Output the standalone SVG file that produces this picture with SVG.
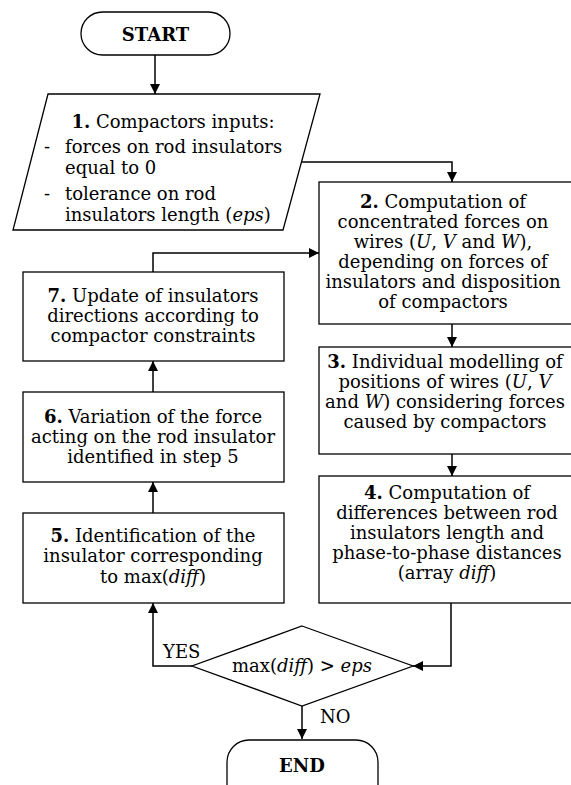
<svg xmlns="http://www.w3.org/2000/svg" width="571" height="785" viewBox="0 0 571 785">
<style>
.s{fill:#fff;stroke:#000;stroke-width:1.3}
.c{fill:none;stroke:#000;stroke-width:1.5}
text{font-family:"DejaVu Serif","Liberation Serif",serif;font-size:18px;fill:#000}
.m{text-anchor:middle}
.b{font-weight:bold}
</style>
<defs>
<marker id="a" viewBox="0 0 10 10" refX="10" refY="5" markerWidth="10" markerHeight="10" markerUnits="userSpaceOnUse" orient="auto">
<path d="M0,0 L10,5 L0,10 z" fill="#000"/>
</marker>
</defs>
<rect width="571" height="785" fill="#fff"/>
<g id="connectors">
<path class="c" d="M155,55 V94" marker-end="url(#a)"/>
<path class="c" d="M302,162 H452 V182" marker-end="url(#a)"/>
<path class="c" d="M452,324 V347" marker-end="url(#a)"/>
<path class="c" d="M452,454 V476" marker-end="url(#a)"/>
<path class="c" d="M451,603 V666 H413" marker-end="url(#a)"/>
<path class="c" d="M192,666 H153 V603" marker-end="url(#a)"/>
<path class="c" d="M153,513 V482" marker-end="url(#a)"/>
<path class="c" d="M153,392 V361" marker-end="url(#a)"/>
<path class="c" d="M153,272 V253 H319" marker-end="url(#a)"/>
<path class="c" d="M302,706 V739" marker-end="url(#a)"/>
<text x="163" y="658">YES</text>
<text x="320" y="723">NO</text>
</g>
<g id="start">
<rect class="s" x="81" y="12" width="149" height="43" rx="21.5"/>
<text class="m b" x="155.5" y="41">START</text>
</g>
<g id="step1">
<polygon class="s" points="48,94 320,94 283,230 13,230"/>
<text class="m" x="173" y="128"><tspan class="b">1.</tspan> Compactors inputs:</text>
<text x="44" y="153">-</text><text x="65" y="153">forces on rod insulators</text>
<text x="65" y="174">equal to 0</text>
<text x="44" y="200">-</text><text x="65" y="200">tolerance on rod</text>
<text x="65" y="221">insulators length (<tspan font-style="italic">eps</tspan>)</text>
</g>
<g id="step2">
<rect class="s" x="319" y="182" width="262" height="142"/>
<text class="m" x="443" y="208"><tspan class="b">2.</tspan> Computation of</text>
<text class="m" x="443" y="228">concentrated forces on</text>
<text class="m" x="443" y="248">wires (<tspan font-style="italic">U</tspan>, <tspan font-style="italic">V</tspan> and <tspan font-style="italic">W</tspan>),</text>
<text class="m" x="443" y="268">depending on forces of</text>
<text class="m" x="443" y="288">insulators and disposition</text>
<text class="m" x="443" y="308">of compactors</text>
</g>
<g id="step3">
<rect class="s" x="319" y="347" width="262" height="107"/>
<text class="m" x="445" y="368"><tspan class="b">3.</tspan> Individual modelling of</text>
<text class="m" x="445" y="388">positions of wires (<tspan font-style="italic">U</tspan>, <tspan font-style="italic">V</tspan></text>
<text class="m" x="445" y="408">and <tspan font-style="italic">W</tspan>) considering forces</text>
<text class="m" x="445" y="428">caused by compactors</text>
</g>
<g id="step4">
<rect class="s" x="319" y="476" width="262" height="127"/>
<text class="m" x="447" y="499"><tspan class="b">4.</tspan> Computation of</text>
<text class="m" x="447" y="519">differences between rod</text>
<text class="m" x="447" y="539">insulators length and</text>
<text class="m" x="447" y="559">phase-to-phase distances</text>
<text class="m" x="447" y="579">(array <tspan font-style="italic">diff</tspan>)</text>
</g>
<g id="step5">
<rect class="s" x="23" y="513" width="261" height="90"/>
<text class="m" x="153" y="542"><tspan class="b">5.</tspan> Identification of the</text>
<text class="m" x="153" y="562">insulator corresponding</text>
<text class="m" x="153" y="583">to max(<tspan font-style="italic">diff</tspan>)</text>
</g>
<g id="step6">
<rect class="s" x="23" y="392" width="261" height="90"/>
<text class="m" x="153" y="423"><tspan class="b">6.</tspan> Variation of the force</text>
<text class="m" x="153" y="443">acting on the rod insulator</text>
<text class="m" x="153" y="463">identified in step 5</text>
</g>
<g id="step7">
<rect class="s" x="23" y="272" width="261" height="89"/>
<text class="m" x="153" y="302"><tspan class="b">7.</tspan> Update of insulators</text>
<text class="m" x="153" y="322">directions according to</text>
<text class="m" x="153" y="342">compactor constraints</text>
</g>
<g id="decision">
<polygon class="s" points="302,626 413,666 302,706 192,666"/>
<text class="m" x="302" y="672">max(<tspan font-style="italic">diff</tspan>) &gt; <tspan font-style="italic">eps</tspan></text>
</g>
<g id="end">
<rect class="s" x="227" y="740" width="151" height="70" rx="22"/>
<text class="m b" x="302" y="772">END</text>
</g>
</svg>
